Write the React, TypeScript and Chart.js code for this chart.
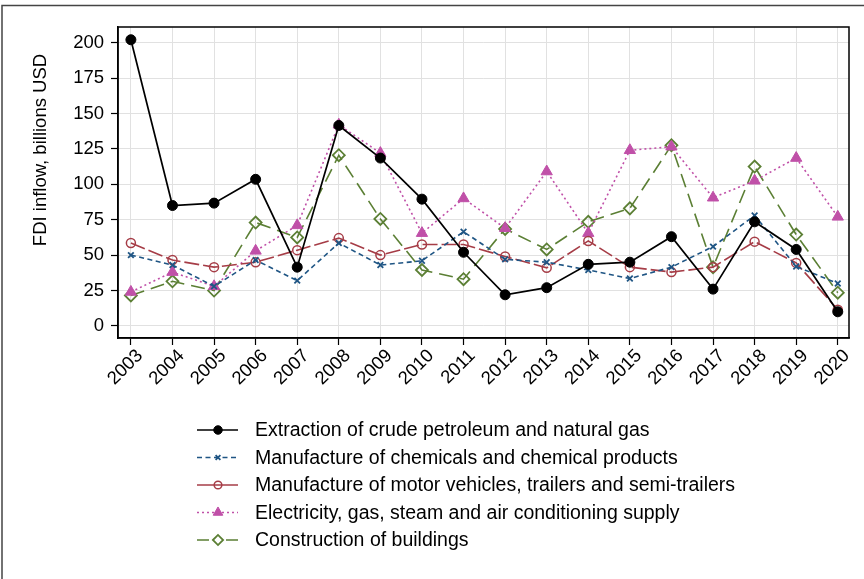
import React, { useEffect, useRef } from 'react';
import { Chart, registerables } from 'chart.js';
import { drawPoint } from 'chart.js/helpers';

Chart.register(...registerables);

const YEARS = [2003, 2004, 2005, 2006, 2007, 2008, 2009, 2010, 2011, 2012, 2013, 2014, 2015, 2016, 2017, 2018, 2019, 2020];
const Y_TICKS = [0, 25, 50, 75, 100, 125, 150, 175, 200];

const EXTRACTION = [202, 85, 86.7, 103.5, 41.5, 141.5, 118.5, 89.5, 52, 22, 27, 43.5, 45, 63, 26, 73.5, 54, 10];
const CHEMICALS = [50, 43, 28, 46.5, 32, 58.5, 43, 46, 66.5, 47, 45, 39.5, 33.5, 41.5, 56, 78, 42, 30];
const MOTOR = [58.5, 46.5, 41.5, 45, 53.5, 62, 50, 57.5, 57.5, 49, 41, 60, 41.5, 38, 41.5, 59.5, 44.5, 11.5];
const ELECTRICITY = [24, 38, 28, 53, 71, 142, 122, 65.5, 90, 69, 109, 65.5, 124, 126.5, 90.5, 102.5, 118.5, 77];
const CONSTRUCTION = [21.5, 31.5, 25, 73, 62.5, 120.5, 75.5, 39.5, 33, 68.5, 54, 73.5, 83, 127.5, 41.5, 112.5, 64.5, 23.5];

const SERIES_LABELS = [
  'Extraction of crude petroleum and natural gas',
  'Manufacture of chemicals and chemical products',
  'Manufacture of motor vehicles, trailers and semi-trailers',
  'Electricity, gas, steam and air conditioning supply',
  'Construction of buildings',
];
const Y_TITLE = 'FDI inflow, billions USD';

const FONT = '"Liberation Sans", Arial, Helvetica, sans-serif';

const toPts = (arr: number[]) => arr.map((v, i) => ({ x: YEARS[i], y: v }));

const decor = {
  id: 'decor',
  beforeDraw(chart: any) {
    const ctx = chart.ctx;
    ctx.save();
    ctx.fillStyle = '#ffffff';
    ctx.fillRect(0, 0, chart.width, chart.height);
    ctx.restore();
  },
  afterDraw(chart: any) {
    const ctx = chart.ctx;
    const a = chart.chartArea;
    ctx.save();
    // plot box
    ctx.strokeStyle = '#000';
    ctx.lineWidth = 1.5;
    ctx.strokeRect(a.left, a.top, a.right - a.left, a.bottom - a.top);
    // outer frame (top and left)
    ctx.strokeStyle = '#444';
    ctx.lineWidth = 1.5;
    ctx.beginPath();
    ctx.moveTo(2, chart.height);
    ctx.lineTo(2, 5.5);
    ctx.lineTo(chart.width, 5.5);
    ctx.stroke();
    // y title
    ctx.save();
    ctx.translate(41, 150);
    ctx.rotate(-Math.PI / 2);
    ctx.fillStyle = '#000';
    ctx.font = `18.5px ${FONT}`;
    ctx.textAlign = 'center';
    ctx.textBaseline = 'middle';
    ctx.fillText(Y_TITLE, 0, 0);
    ctx.restore();
    // legend
    const y0 = 430;
    const step = 27.5;
    chart.data.datasets.forEach((ds: any, i: number) => {
      const y = y0 + i * step;
      ctx.save();
      ctx.strokeStyle = ds.borderColor;
      ctx.lineWidth = ds.borderWidth;
      ctx.setLineDash(ds.legendDash || ds.borderDash || []);
      ctx.beginPath();
      ctx.moveTo(197, y);
      ctx.lineTo(238, y);
      ctx.stroke();
      ctx.setLineDash([]);
      ctx.fillStyle = ds.pointBackgroundColor;
      ctx.strokeStyle = ds.borderColor;
      ctx.lineWidth = ds.pointBorderWidth;
      drawPoint(ctx, { pointStyle: ds.pointStyle, radius: ds.pointRadius * 0.85, borderWidth: ds.pointBorderWidth, rotation: 0 } as any, 218, y);
      ctx.fillStyle = '#000';
      ctx.font = `19.5px ${FONT}`;
      ctx.textAlign = 'left';
      ctx.textBaseline = 'middle';
      ctx.fillText(ds.label, 255, y + 1);
      ctx.restore();
    });
    ctx.restore();
  },
};

export default function App() {
  const ref = useRef<HTMLCanvasElement>(null);
  useEffect(() => {
    if (!ref.current) return;
    const chart = new Chart(ref.current, {
      type: 'line',
      data: {
        datasets: [
          {
            label: SERIES_LABELS[0],
            data: toPts(EXTRACTION),
            borderColor: '#000000',
            borderWidth: 1.7,
            pointStyle: 'circle',
            pointRadius: 5,
            pointBackgroundColor: '#000000',
            pointBorderWidth: 1,
          },
          {
            label: SERIES_LABELS[1],
            data: toPts(CHEMICALS),
            borderColor: '#1f5584',
            borderWidth: 1.6,
            borderDash: [5, 3.5],
            pointStyle: 'crossRot',
            pointRadius: 4,
            pointBackgroundColor: '#1f5584',
            pointBorderWidth: 1.8,
          },
          {
            label: SERIES_LABELS[2],
            data: toPts(MOTOR),
            borderColor: '#a63d47',
            borderWidth: 1.6,
            borderDash: [15, 4],
            legendDash: [],
            pointStyle: 'circle',
            pointRadius: 4.5,
            pointBackgroundColor: 'rgba(255,255,255,0)',
            pointBorderWidth: 1.5,
          },
          {
            label: SERIES_LABELS[3],
            data: toPts(ELECTRICITY),
            borderColor: '#c050a8',
            borderWidth: 1.6,
            borderDash: [2, 3],
            pointStyle: 'triangle',
            pointRadius: 6.5,
            pointBackgroundColor: '#c050a8',
            pointBorderWidth: 1,
          },
          {
            label: SERIES_LABELS[4],
            data: toPts(CONSTRUCTION),
            borderColor: '#5b7f34',
            borderWidth: 1.6,
            borderDash: [14, 7],
            legendDash: [12, 17],
            pointStyle: 'rectRot',
            pointRadius: 6,
            pointBackgroundColor: 'rgba(255,255,255,0)',
            pointBorderWidth: 1.8,
          },
        ] as any,
      },
      options: {
        responsive: false,
        animation: false,
        devicePixelRatio: 1,
        layout: { padding: { left: 0, top: 27, right: 15, bottom: 186 } },
        plugins: { legend: { display: false }, tooltip: { enabled: false }, title: { display: false } },
        elements: { line: { tension: 0 } },
        scales: {
          x: {
            type: 'linear',
            min: 2002.69,
            max: 2020.27,
            afterBuildTicks: (s: any) => {
              s.ticks = YEARS.map((v) => ({ value: v }));
            },
            afterFit: (s: any) => {
              s.height = 55;
            },
            grid: { color: '#e1e1e1', lineWidth: 1, tickColor: '#000', tickLength: 7, tickWidth: 1.2 },
            border: { color: '#000', width: 1.5 },
            ticks: {
              autoSkip: false,
              maxRotation: 45,
              minRotation: 45,
              padding: 0,
              labelOffset: 9,
              color: '#000',
              font: { size: 18.5, family: FONT },
              callback: (v: any) => String(v),
            },
          },
          y: {
            type: 'linear',
            min: -8.5,
            max: 211,
            afterBuildTicks: (s: any) => {
              s.ticks = Y_TICKS.map((v) => ({ value: v }));
            },
            afterFit: (s: any) => {
              s.width = 118;
            },
            grid: { color: '#e1e1e1', lineWidth: 1, tickColor: '#000', tickLength: 7, tickWidth: 1.2 },
            border: { color: '#000', width: 1.5 },
            ticks: {
              padding: 7,
              color: '#000',
              font: { size: 18.5, family: FONT },
              callback: (v: any) => String(v),
            },
          },
        },
      } as any,
      plugins: [decor],
    });
    return () => chart.destroy();
  }, []);
  return (
    <div style={{ position: 'absolute', left: 0, top: 0, width: 864, height: 579 }}>
      <canvas ref={ref} width={864} height={579} style={{ display: 'block' }} />
    </div>
  );
}
